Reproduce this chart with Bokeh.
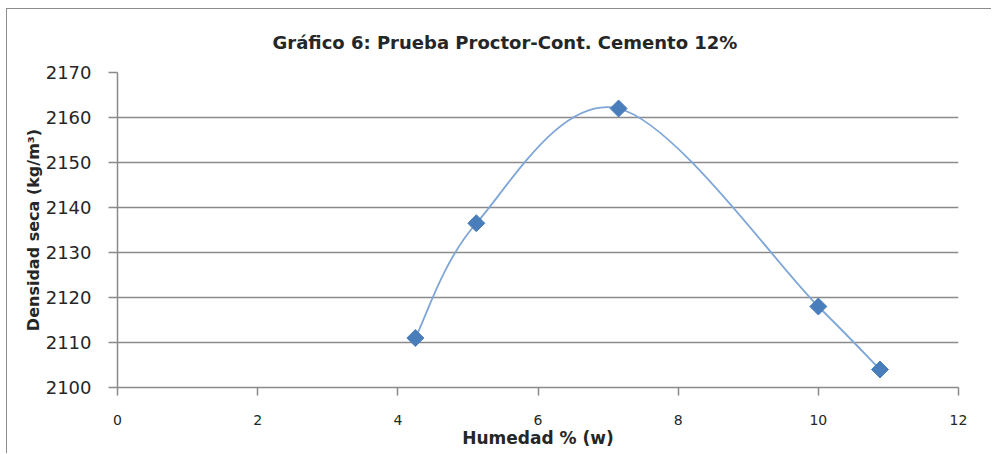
import numpy as np
from bokeh.plotting import figure
from bokeh.models import Range1d, FixedTicker
from bokeh.embed import file_html
from bokeh.resources import INLINE

humedad = [4.25, 5.12, 7.15, 10.0, 10.88]
densidad = [2111.0, 2136.5, 2162.0, 2118.0, 2104.0]
x_ticks = [0, 2, 4, 6, 8, 10, 12]
y_ticks = [2100, 2110, 2120, 2130, 2140, 2150, 2160, 2170]

title_text = "Gráfico 6: Prueba Proctor-Cont. Cemento 12%"
x_label = "Humedad % (w)"
y_label = "Densidad seca (kg/m³)"

p = figure(width=985, height=445, output_backend="svg", toolbar_location=None,
           x_range=Range1d(0, 12), y_range=Range1d(2100, 2170),
           min_border_left=110, min_border_right=34, min_border_top=62, min_border_bottom=67)
p.margin = (8, 0, 0, 6)
p.styles = {"border-left": "1px solid #8c8c8c", "border-top": "1px solid #8c8c8c"}

p.title.text = title_text
p.title.align = "left"
p.title.offset = 155
p.title.standoff = 40
p.title.text_font = "DejaVu Sans"
p.title.text_font_size = "18px"
p.title.text_font_style = "bold"
p.title.text_color = "#262626"

p.outline_line_color = None
p.xgrid.grid_line_color = None
p.ygrid.grid_line_color = "#8a8a8a"
p.ygrid.grid_line_width = 1.5

for ax in (p.xaxis[0], p.yaxis[0]):
    ax.axis_line_color = "#8a8a8a"
    ax.axis_line_width = 1.5
    ax.major_tick_line_color = "#8a8a8a"
    ax.major_tick_line_width = 1.5
    ax.major_tick_in = 0
    ax.minor_tick_line_color = None
    ax.major_label_text_color = "#262626"
    ax.axis_label_text_font = "DejaVu Sans"
    ax.axis_label_text_font_style = "bold"
    ax.axis_label_text_color = "#262626"

p.xaxis.ticker = FixedTicker(ticks=x_ticks)
p.yaxis.ticker = FixedTicker(ticks=y_ticks)
p.xaxis.major_tick_out = 8
p.yaxis.major_tick_out = 9
p.xaxis.major_label_text_font = "DejaVu Sans"
p.xaxis.major_label_text_font_size = "14px"
p.xaxis.major_label_standoff = 19
p.yaxis.major_label_text_font = "DejaVu Sans"
p.yaxis.major_label_text_font_size = "18px"
p.yaxis.major_label_standoff = 17
p.xaxis.axis_label = x_label
p.yaxis.axis_label = y_label
p.xaxis.axis_label_text_font_size = "17px"
p.yaxis.axis_label_text_font_size = "16px"
p.xaxis.axis_label_standoff = 0
p.yaxis.axis_label_standoff = 0

# Excel-style smoothed line (Catmull-Rom -> cubic Bezier)
x = np.array(humedad)
y = np.array(densidad)
n = len(x)
xp = np.concatenate([[x[0]], x, [x[-1]]])
yp = np.concatenate([[y[0]], y, [y[-1]]])
x0, y0 = x[:-1], y[:-1]
x1, y1 = x[1:], y[1:]
cx0 = x0 + (xp[2:n+1] - xp[0:n-1]) / 6.0
cy0 = y0 + (yp[2:n+1] - yp[0:n-1]) / 6.0
cx1 = x1 - (xp[3:n+2] - xp[1:n]) / 6.0
cy1 = y1 - (yp[3:n+2] - yp[1:n]) / 6.0
p.bezier(x0=x0, y0=y0, x1=x1, y1=y1, cx0=cx0, cy0=cy0, cx1=cx1, cy1=cy1,
         line_color="#7EA6D8", line_width=1.8)

p.scatter(humedad, densidad, marker="square", angle=np.pi / 4, size=12,
          fill_color="#4A7EBB", line_color="#4A7EBB")

open("out.html", "w").write(file_html(p, INLINE))
